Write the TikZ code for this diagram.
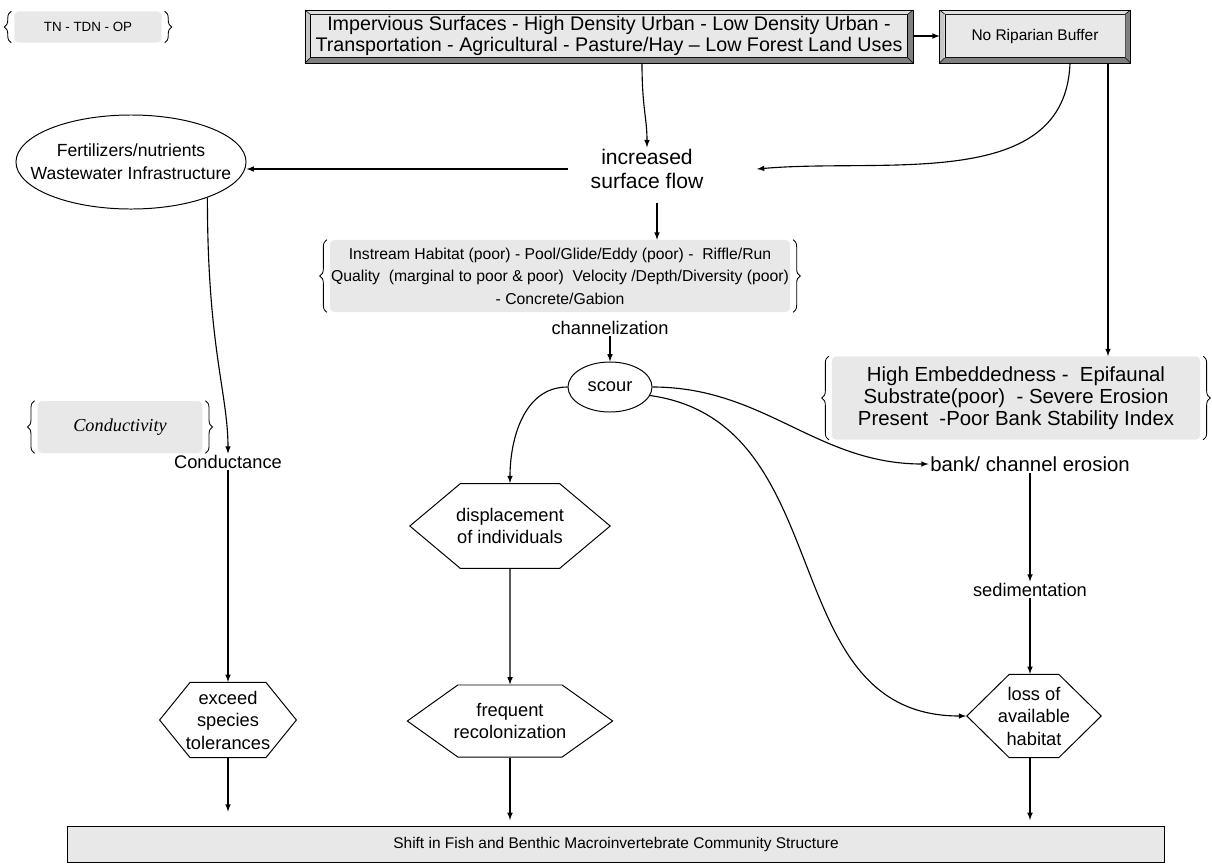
\documentclass[tikz,border=0pt]{standalone}
\usepackage{fontspec}
\setmainfont{Liberation Sans}
\newfontfamily\serifit{Liberation Serif}
\usetikzlibrary{
	arrows,
	shapes,
	positioning,
	decorations.pathreplacing,
}

\tikzset{
	flow/.style={-latex, line width=0.8pt},
	lbl/.style={align=center, inner sep=1pt, font=\fontsize{13}{16}\selectfont},
	face/.style={draw, fill=gray!18, align=center, inner sep=0pt, line width=0.5pt},
	brbox/.style={fill=gray!18, rounded corners=3pt, align=center, inner sep=0pt},
	hexa/.style={draw, signal, signal to=west and east, align=center, inner sep=0pt,
		line width=0.7pt, font=\fontsize{13}{16}\selectfont},
	oval/.style={draw, ellipse, align=center, inner sep=0pt, line width=0.7pt},
	cbrace/.style={decorate, decoration={brace, amplitude=5pt}, line width=0.6pt},
}

% raised frame round a face node
\newcommand\bevelframe[1]{%
	\fill[gray!25] (#1.north west) -- ([shift={(-5,4)}]#1.north west) -- ([shift={(5,4)}]#1.north east) -- (#1.north east) -- cycle;
	\fill[gray!45] (#1.north west) -- ([shift={(-5,4)}]#1.north west) -- ([shift={(-5,-5)}]#1.south west) -- (#1.south west) -- cycle;
	\fill[gray] (#1.south west) -- ([shift={(-5,-5)}]#1.south west) -- ([shift={(5,-5)}]#1.south east) -- (#1.south east) -- cycle;
	\fill[gray] (#1.north east) -- ([shift={(5,4)}]#1.north east) -- ([shift={(5,-5)}]#1.south east) -- (#1.south east) -- cycle;
	\draw[line width=0.6pt] ([shift={(-5,4)}]#1.north west) rectangle ([shift={(5,-5)}]#1.south east);
	\draw[line width=0.4pt] ([shift={(-5,4)}]#1.north west) -- (#1.north west)
		([shift={(5,4)}]#1.north east) -- (#1.north east)
		([shift={(-5,-5)}]#1.south west) -- (#1.south west)
		([shift={(5,-5)}]#1.south east) -- (#1.south east);
}
% curly braces on both sides of a grey note
\newcommand\bracepair[1]{%
	\draw[cbrace] ([xshift=-2pt]#1.south west) -- ([xshift=-2pt]#1.north west);
	\draw[cbrace] ([xshift=2pt]#1.north east) -- ([xshift=2pt]#1.south east);
}

\begin{document}
\begin{tikzpicture}[x=0.025cm, y=0.025cm]
	\useasboundingbox (0,0) rectangle (1212,-863);

	% top row
	\node[face, minimum width=14.93cm, minimum height=1.08cm, font=\fontsize{14}{15}\selectfont] (land) at (609,-36)
		{Impervious Surfaces - High Density Urban - Low Density Urban -\\Transportation - Agricultural - Pasture/Hay -- Low Forest Land Uses};
	\bevelframe{land}
	\node[face, minimum width=4.5cm, minimum height=1.08cm, font=\fontsize{11}{13}\selectfont] (ripa) at (1035,-36) {No Riparian Buffer};
	\bevelframe{ripa}
	\node[brbox, minimum width=3.68cm, minimum height=0.78cm, font=\fontsize{9.5}{11}\selectfont] (tn) at (88,-27) {TN - TDN - OP};
	\bracepair{tn}

	% left column
	\node[oval, inner xsep=-18pt, minimum width=5.75cm, minimum height=2.35cm, font=\fontsize{12.5}{16.5}\selectfont] (fert) at (131,-162)
		{Fertilizers/nutrients\\Wastewater Infrastructure};
	\node[brbox, minimum width=4.12cm, minimum height=1.3cm, font=\serifit\itshape\fontsize{13}{15}\selectfont] (condy) at (120,-427) {Conductivity};
	\bracepair{condy}
	\node[lbl] (cond) at (228,-462) {Conductance};
	\node[hexa, inner xsep=-3pt, minimum width=3.38cm, minimum height=1.88cm, signal pointer angle=102] (exceed) at (228,-720)
		{exceed\\species\\tolerances};

	% middle column
	\node[lbl, font=\fontsize{15}{17.5}\selectfont] (surf) at (647,-169) {increased\\surface flow};
	\node[brbox, minimum width=11.5cm, minimum height=1.8cm, font=\fontsize{11.2}{16}\selectfont] (instr) at (560,-276)
		{Instream Habitat (poor) - Pool/Glide/Eddy (poor) -\ \ Riffle/Run\\
		 Quality\ \ (marginal to poor \& poor)\ \ Velocity /Depth/Diversity (poor)\\
		 - Concrete/Gabion};
	\bracepair{instr}
	\node[lbl] (chan) at (610,-328) {channelization};
	\node[oval, minimum width=2.1cm, minimum height=1.25cm, font=\fontsize{13}{16}\selectfont] (scour) at (610,-387) {scour};
	\node[hexa, inner xsep=-3pt, minimum width=4.95cm, minimum height=2.12cm, signal pointer angle=80] (disp) at (510,-526)
		{displacement\\of individuals};
	\node[hexa, inner xsep=-3pt, minimum width=4.95cm, minimum height=1.8cm, signal pointer angle=71] (freq) at (510,-721)
		{frequent\\recolonization};

	% right column
	\node[brbox, minimum width=9.2cm, minimum height=2.08cm, font=\fontsize{14.5}{15.5}\selectfont] (rbank) at (1016,-398)
		{High Embeddedness -\ \ Epifaunal\\Substrate(poor)\ \ - Severe Erosion\\Present\ \ -Poor Bank Stability Index};
	\bracepair{rbank}
	\node[lbl, font=\fontsize{14.5}{16}\selectfont] (bank) at (1030,-464) {bank/ channel erosion};
	\node[lbl] (sed) at (1030,-590) {sedimentation};
	\node[hexa, inner xsep=-8pt, minimum width=3.3cm, minimum height=2.08cm, signal pointer angle=89] (loss) at (1034,-716)
		{loss of\\available\\habitat};

	% bottom
	\node[draw, fill=gray!18, minimum width=27.43cm, minimum height=0.9cm, line width=0.5pt,
		font=\fontsize{11}{13}\selectfont] (shift) at (616,-844)
		{Shift in Fish and Benthic Macroinvertebrate Community Structure};

	% connectors
	\coordinate (landout) at ([shift={(33,-5)}]land.south);
	\coordinate (ripaout) at ([shift={(73,-5)}]ripa.south);
	\coordinate (surfout) at ([shift={(10,-12)}]surf.south);
	\draw[flow, shorten <=3.5pt, shorten >=3.5pt] (land) -- (ripa);
	\draw[flow] (landout) .. controls +(0,-45) and +(0,30) .. (surf.north);
	\draw[flow, shorten <=15pt] (surf.west) -- (surf.west -| fert.east);
	\draw[flow] ([shift={(35,-5)}]ripa.south) to[out=-92, in=5] ([shift={(52,0)}]surf.east);
	\draw[flow] (ripaout) -- (ripaout |- rbank.north);
	\draw[flow] (surfout) -- (surfout |- instr.north);
	\draw[flow] (chan) -- (scour);
	\draw[flow] (scour.west) to[out=180, in=90] (disp.north);
	\draw[flow] (scour.east) to[out=0, in=180] (bank.west);
	\draw[flow] (scour.-12) to[out=-8, in=180, looseness=1.1] (loss.west);
	\draw[flow] (bank) -- (sed);
	\draw[flow] (sed) -- (sed |- loss.north);
	\draw[flow] (disp) -- (freq);
	\draw[flow] (fert.-25) .. controls +(0,-150) and +(0,60) .. (cond.north);
	\draw[flow] (cond) -- (exceed.north);
	\draw[flow, shorten >=10pt] (exceed.south) -- (exceed.south |- shift.north);
	\draw[flow, shorten >=4pt] (freq.south) -- (freq.south |- shift.north);
	\draw[flow, shorten >=4pt] (sed |- loss.south) -- (sed |- shift.north);
\end{tikzpicture}
\end{document}
